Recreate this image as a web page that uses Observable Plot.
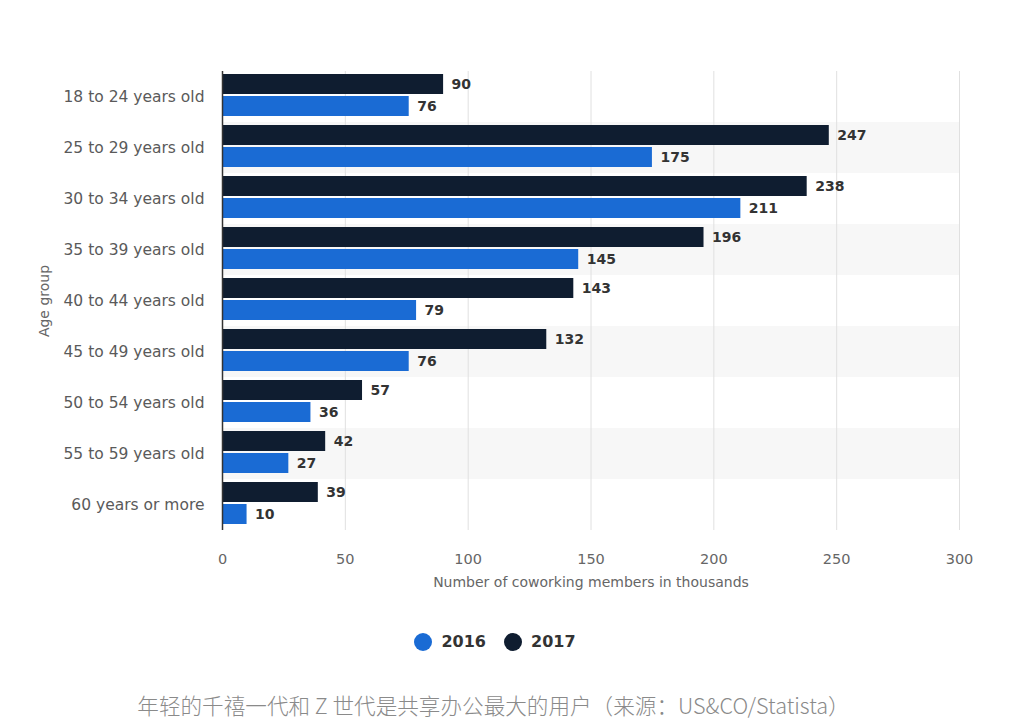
<!DOCTYPE html>
<html>
<head>
<meta charset="utf-8">
<script src="https://cdn.jsdelivr.net/npm/d3@7"></script>
<script src="https://cdn.jsdelivr.net/npm/@observablehq/plot@0.6"></script>
<style>
  body { margin: 0; background: #fff; font-family: "DejaVu Sans", sans-serif; }
  #wrap { width: 1016px; position: relative; }
  #legend { display: flex; justify-content: center; align-items: center; gap: 18px; margin-top: 32px; margin-left: -26px; font-family: "DejaVu Sans", sans-serif; font-weight: 700; font-size: 16px; color: #333; }
  #legend .item { display: flex; align-items: center; gap: 9px; }
  #legend .dot { width: 18px; height: 18px; border-radius: 50%; display: inline-block; }
  #caption { text-align: center; margin-top: 38px; margin-left: -29px; font-family: "Noto Sans CJK SC", sans-serif; font-size: 21.6px; color: #8a8a8a; font-weight: 300; }
</style>
</head>
<body>
<div id="wrap">
  <div id="chart"></div>
  <div id="legend"></div>
  <div id="caption">年轻的千禧一代和 Z 世代是共享办公最大的用户（来源：US&amp;CO/Statista）</div>
</div>
<script>
const categories = ["18 to 24 years old", "25 to 29 years old", "30 to 34 years old", "35 to 39 years old", "40 to 44 years old", "45 to 49 years old", "50 to 54 years old", "55 to 59 years old", "60 years or more"];
const values2016 = [76, 175, 211, 145, 79, 76, 36, 27, 10];
const values2017 = [90, 247, 238, 196, 143, 132, 57, 42, 39];
const years = ["2016", "2017"];
const colors = ["#1a6bd4", "#0f1d30"];
const xTicks = [0, 50, 100, 150, 200, 250, 300];

const data = [];
categories.forEach((c, i) => {
  data.push({category: c, year: "2017", value: values2017[i]});
  data.push({category: c, year: "2016", value: values2016[i]});
});
const shaded = categories.filter((c, i) => i % 2 === 1);

const chart = Plot.plot({
  width: 1016,
  height: 600,
  marginTop: 68,
  marginBottom: 67,
  marginLeft: 222,
  marginRight: 57,
  style: {fontFamily: "'DejaVu Sans', sans-serif", background: "#fff"},
  x: {domain: [0, 300]},
  fy: {domain: categories, padding: 0},
  y: {domain: ["2017", "2016"], paddingInner: 0.1, paddingOuter: 0.2, align: 0.35, axis: null},
  color: {domain: years, range: colors},
  marks: [
    Plot.rect(shaded, {fy: d => d, x1: 0, x2: 300, fill: "#f7f7f7"}),
    Plot.gridX(xTicks.filter(t => t > 0), {stroke: "#e0e0e0", strokeOpacity: 1}),
    Plot.barX(data, {fy: "category", y: "year", x: "value", fill: "year"}),
    Plot.text(data, {fy: "category", y: "year", x: "value", text: d => String(d.value), dx: 8, textAnchor: "start", fontWeight: 700, fontSize: 14, fill: "#333"}),
    Plot.ruleX([0], {stroke: "#333", strokeWidth: 1.5}),
    Plot.axisFy({anchor: "left", tickSize: 0, tickPadding: 18, fontSize: 15.5, color: "#5a5a5a", label: null}),
    Plot.axisFy({anchor: "left", ticks: [], tickSize: 0, fontSize: 14, color: "#666", label: "Age group", labelAnchor: "center", labelArrow: "none", labelOffset: 183}),
    Plot.axisX({ticks: xTicks, tickSize: 0, tickPadding: 23, fontSize: 14.5, color: "#666", label: null}),
    Plot.axisX({ticks: [], tickSize: 0, fontSize: 14, color: "#666", label: "Number of coworking members in thousands", labelAnchor: "center", labelArrow: "none", labelOffset: 56})
  ]
});
document.getElementById("chart").appendChild(chart);

const legend = document.getElementById("legend");
years.forEach((y, i) => {
  const item = document.createElement("div");
  item.className = "item";
  const dot = document.createElement("span");
  dot.className = "dot";
  dot.style.background = colors[i];
  const label = document.createElement("span");
  label.textContent = y;
  item.appendChild(dot);
  item.appendChild(label);
  legend.appendChild(item);
});
</script>
</body>
</html>
